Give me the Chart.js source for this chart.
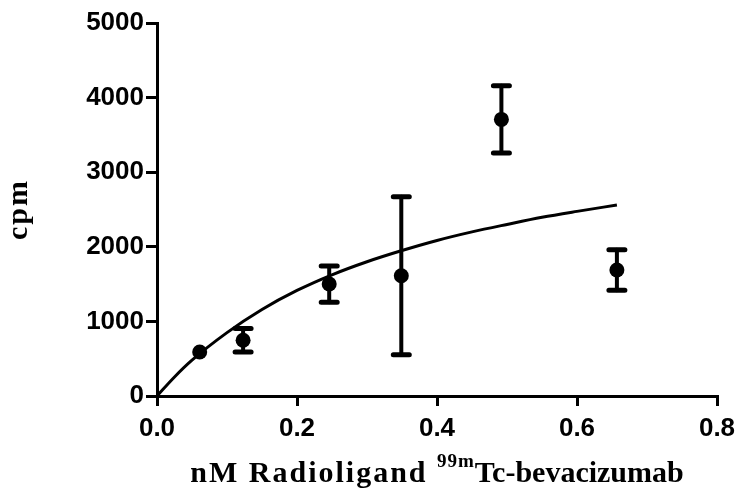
<!DOCTYPE html>
<html>
<head>
<meta charset="utf-8">
<script src="https://cdn.jsdelivr.net/npm/chart.js@4/dist/chart.umd.min.js"></script>
<style>
  body { margin: 0; background: #fff; }
  canvas { display: block; }
</style>
</head>
<body>
<canvas id="mycanvas" width="738" height="489"></canvas>
<script>
// measured binding data (nM vs cpm, mean +/- error)
var xValues = [0.061, 0.123, 0.246, 0.349, 0.492, 0.657];
var cpmMean = [590, 747, 1501, 1612, 3708, 1689];
var cpmErr = [0, 157, 243, 1059, 450, 270];

// fitted curve
var fitX = [0, 0.025, 0.05, 0.1, 0.15, 0.2, 0.25, 0.3, 0.35, 0.4, 0.45, 0.5, 0.55, 0.6, 0.657];
var fitY = [0, 255, 480, 850, 1160, 1415, 1625, 1800, 1950, 2085, 2200, 2300, 2395, 2475, 2560];

var xTicks = [0, 0.2, 0.4, 0.6, 0.8];
var yTicks = [0, 1000, 2000, 3000, 4000, 5000];

var tickFont = { family: 'Liberation Sans, Arial, sans-serif', size: 26, weight: 'bold' };
var titleFont = 'bold 30px "Liberation Serif", "Times New Roman", serif';
var supFont = 'bold 19px "Liberation Serif", "Times New Roman", serif';

var fitData = [];
for (var i in fitX) {
  fitData.push({ x: fitX[i], y: fitY[i] });
}
var pointData = [];
for (var j in xValues) {
  pointData.push({ x: xValues[j], y: cpmMean[j] });
}

var errorBars = {
  id: 'errorBars',
  afterDatasetsDraw: function (chart) {
    var ctx = chart.ctx;
    var xs = chart.scales.x, ys = chart.scales.y;
    ctx.save();
    ctx.strokeStyle = '#000';
    ctx.lineCap = 'round';
    for (var k = 0; k < xValues.length; k++) {
      if (!cpmErr[k]) continue;
      var px = xs.getPixelForValue(xValues[k]);
      var top = ys.getPixelForValue(cpmMean[k] + cpmErr[k]);
      var bot = ys.getPixelForValue(cpmMean[k] - cpmErr[k]);
      ctx.lineWidth = 4;
      ctx.beginPath();
      ctx.moveTo(px, top);
      ctx.lineTo(px, bot);
      ctx.stroke();
      ctx.lineWidth = 5;
      ctx.beginPath();
      ctx.moveTo(px - 8, top);
      ctx.lineTo(px + 8, top);
      ctx.moveTo(px - 8, bot);
      ctx.lineTo(px + 8, bot);
      ctx.stroke();
    }
    ctx.restore();
  }
};

var axisTitles = {
  id: 'axisTitles',
  afterDraw: function (chart) {
    var ctx = chart.ctx;
    var area = chart.chartArea;
    ctx.save();
    ctx.fillStyle = '#000';
    ctx.textBaseline = 'alphabetic';
    ctx.textAlign = 'left';

    // x title with superscript
    var partA = 'nM Radioligand ';
    var partB = '99m';
    var partC = 'Tc-bevacizumab';
    ctx.font = titleFont;
    ctx.letterSpacing = '2px';
    var wA = ctx.measureText(partA).width;
    ctx.letterSpacing = '0px';
    var wC = ctx.measureText(partC).width;
    ctx.font = supFont;
    ctx.letterSpacing = '1px';
    var wB = ctx.measureText(partB).width;
    var total = wA + wB + wC;
    var x0 = (area.left + area.right) / 2 - total / 2;
    var base = 482;
    ctx.font = titleFont;
    ctx.letterSpacing = '2px';
    ctx.fillText(partA, x0, base);
    ctx.font = supFont;
    ctx.letterSpacing = '1px';
    ctx.fillText(partB, x0 + wA, base - 15);
    ctx.font = titleFont;
    ctx.letterSpacing = '0px';
    ctx.fillText(partC, x0 + wA + wB, base);

    // y title
    ctx.translate(27, (area.top + area.bottom) / 2);
    ctx.rotate(-Math.PI / 2);
    ctx.textAlign = 'center';
    ctx.letterSpacing = '2px';
    ctx.fillText('cpm', 0, 0);
    ctx.restore();
  }
};

var ctx = document.getElementById('mycanvas');

var chart = new Chart(ctx, {
  type: 'scatter',
  data: {
    datasets: [{
      label: 'fit',
      data: fitData,
      showLine: true,
      borderColor: '#000',
      borderWidth: 3,
      pointRadius: 0,
      cubicInterpolationMode: 'monotone'
    }, {
      label: 'cpm',
      data: pointData,
      backgroundColor: '#000',
      borderColor: '#000',
      pointRadius: 7.5,
      pointBorderWidth: 0
    }]
  },
  options: {
    responsive: false,
    animation: false,
    layout: { padding: { left: 0, top: 23, right: 21, bottom: 0 } },
    plugins: {
      legend: { display: false },
      tooltip: { enabled: false }
    },
    scales: {
      x: {
        type: 'linear',
        min: 0,
        max: 0.8,
        afterBuildTicks: function (scale) {
          scale.ticks = xTicks.map(function (v) { return { value: v }; });
        },
        afterFit: function (scale) {
          scale.height = 93;
          scale.paddingLeft = 0;
          scale.paddingRight = 0;
        },
        ticks: {
          color: '#000',
          font: tickFont,
          padding: 7,
          maxRotation: 0,
          callback: function (v) { return v.toFixed(1); }
        },
        grid: { drawOnChartArea: false, drawTicks: true, tickLength: 10, lineWidth: 3, color: '#000' },
        border: { width: 3, color: '#000' }
      },
      y: {
        type: 'linear',
        min: 0,
        max: 5000,
        afterBuildTicks: function (scale) {
          scale.ticks = yTicks.map(function (v) { return { value: v }; });
        },
        afterFit: function (scale) {
          scale.width = 157;
          scale.paddingTop = 0;
          scale.paddingBottom = 0;
        },
        ticks: {
          color: '#000',
          font: tickFont,
          padding: 2,
          callback: function (v) { return String(v); }
        },
        grid: { drawOnChartArea: false, drawTicks: true, tickLength: 11, lineWidth: 3, color: '#000' },
        border: { width: 3, color: '#000' }
      }
    }
  },
  plugins: [errorBars, axisTitles]
});
</script>
</body>
</html>
